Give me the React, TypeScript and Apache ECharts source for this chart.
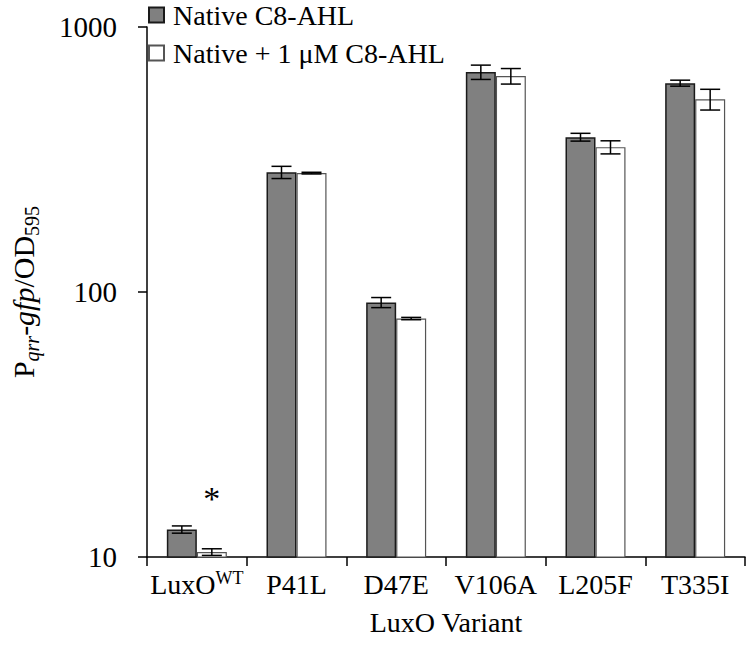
import React, { useEffect, useRef } from "react";
import * as echarts from "echarts";

const categories = ["LuxO", "P41L", "D47E", "V106A", "L205F", "T335I"];
const superscripts = ["WT", "", "", "", "", ""];
const nativeValues = [12.7, 283, 91.3, 676, 384, 614];
const nativeErrors = [0.4, 15, 4, 42, 13, 16];
const addedValues = [10.44, 281, 79.4, 653, 352, 534];
const addedErrors = [0.3, 2, 0.8, 44, 20, 48];
const seriesNames = ["Native C8-AHL", "Native + 1 μM C8-AHL"];
const yTicks = [10, 100, 1000];

const FONT = "'Liberation Serif', 'Times New Roman', serif";
const BAR_W = 30;

export default function App() {
  const ref = useRef<HTMLDivElement>(null);
  useEffect(() => {
    if (!ref.current) return;
    const chart = echarts.init(ref.current, null, { renderer: "svg" });

    const errData = (vals: number[], errs: number[]) =>
      vals.map((v, i) => [i, v - errs[i], v + errs[i]]);

    const errSeries = (vals: number[], errs: number[], offset: number) => ({
      type: "custom",
      z: 5,
      silent: true,
      data: errData(vals, errs),
      encode: { x: 0, y: [1, 2] },
      renderItem: (params: any, api: any) => {
        const idx = api.value(0);
        const lo = api.coord([idx, api.value(1)]);
        const hi = api.coord([idx, api.value(2)]);
        const cx = lo[0] + offset;
        const hw = 10;
        const st = { stroke: "#000", lineWidth: 1.5 };
        return {
          type: "group",
          children: [
            { type: "line", shape: { x1: cx, y1: hi[1], x2: cx, y2: lo[1] }, style: st },
            { type: "line", shape: { x1: cx - hw, y1: hi[1], x2: cx + hw, y2: hi[1] }, style: st },
            { type: "line", shape: { x1: cx - hw, y1: lo[1], x2: cx + hw, y2: lo[1] }, style: st },
          ],
        };
      },
    });

    chart.setOption({
      animation: false,
      textStyle: { fontFamily: FONT, color: "#000" },
      grid: { left: 134, right: 5, top: 27, bottom: 99, containLabel: false },
      legend: {
        data: seriesNames.map((n) => ({ name: n, icon: "rect" })),
        orient: "vertical",
        left: 148,
        top: 1,
        padding: 0,
        itemWidth: 15,
        itemHeight: 15,
        itemGap: 10,
        textStyle: { fontFamily: FONT, fontSize: 28, lineHeight: 24, color: "#000", padding: [0, 0, 0, 4] },
      },
      xAxis: {
        type: "category",
        data: categories,
        name: "LuxO Variant",
        nameLocation: "middle",
        nameGap: 51,
        nameTextStyle: { fontFamily: FONT, fontSize: 28, color: "#000" },
        axisLine: { lineStyle: { color: "#000", width: 1.5 } },
        axisTick: { show: true, length: 9, alignWithLabel: false, lineStyle: { color: "#000", width: 1.5 } },
        axisLabel: {
          interval: 0,
          hideOverlap: false,
          margin: 12,
          fontFamily: FONT,
          fontSize: 28,
          color: "#000",
          formatter: (v: string, i: number) =>
            superscripts[i] ? `{b|${v}}{sup|${superscripts[i]}}` : `{b|${v}}`,
          rich: {
            b: { fontFamily: FONT, fontSize: 28, color: "#000", lineHeight: 30 },
            sup: { fontFamily: FONT, fontSize: 18, color: "#000", verticalAlign: "top", lineHeight: 30 },
          },
        },
        splitLine: { show: false },
      },
      yAxis: {
        type: "log",
        logBase: 10,
        min: yTicks[0],
        max: yTicks[yTicks.length - 1],
        name: "{b|P}{si|qrr}{b|-}{i|gfp}{b|/OD}{s|595}",
        nameLocation: "middle",
        nameGap: 105,
        nameTextStyle: {
          rich: {
            b: { fontFamily: FONT, fontSize: 30, color: "#000", lineHeight: 38 },
            i: { fontFamily: FONT, fontSize: 30, fontStyle: "italic", color: "#000", lineHeight: 38 },
            si: { fontFamily: FONT, fontSize: 20, fontStyle: "italic", color: "#000", verticalAlign: "bottom", lineHeight: 38 },
            s: { fontFamily: FONT, fontSize: 20, color: "#000", verticalAlign: "bottom", lineHeight: 38 },
          },
        },
        axisLine: { show: true, lineStyle: { color: "#000", width: 1.5 } },
        axisTick: { show: true, length: 9, lineStyle: { color: "#000", width: 1.5 } },
        minorTick: { show: false },
        axisLabel: {
          margin: 30,
          fontFamily: FONT,
          fontSize: 29,
          color: "#000",
          formatter: (v: number) => String(Math.round(v)),
        },
        splitLine: { show: false },
      },
      series: [
        {
          name: seriesNames[0],
          type: "bar",
          barWidth: BAR_W,
          barGap: "0%",
          data: nativeValues,
          itemStyle: { color: "#808080", borderColor: "#1a1a1a", borderWidth: 1.5 },
        },
        {
          name: seriesNames[1],
          type: "bar",
          barWidth: BAR_W,
          barGap: "0%",
          data: addedValues.map((v, i) =>
            i === 0
              ? {
                  value: v,
                  label: {
                    show: true,
                    position: "top",
                    distance: 37,
                    formatter: "*",
                    fontFamily: FONT,
                    fontSize: 34,
                    color: "#000",
                  },
                }
              : v
          ),
          itemStyle: { color: "#ffffff", borderColor: "#555", borderWidth: 1.2 },
        },
        errSeries(nativeValues, nativeErrors, -BAR_W / 2),
        errSeries(addedValues, addedErrors, BAR_W / 2),
      ],
    });
    return () => chart.dispose();
  }, []);
  return <div ref={ref} style={{ width: 750, height: 656, position: "absolute", left: 0, top: 0 }} />;
}
